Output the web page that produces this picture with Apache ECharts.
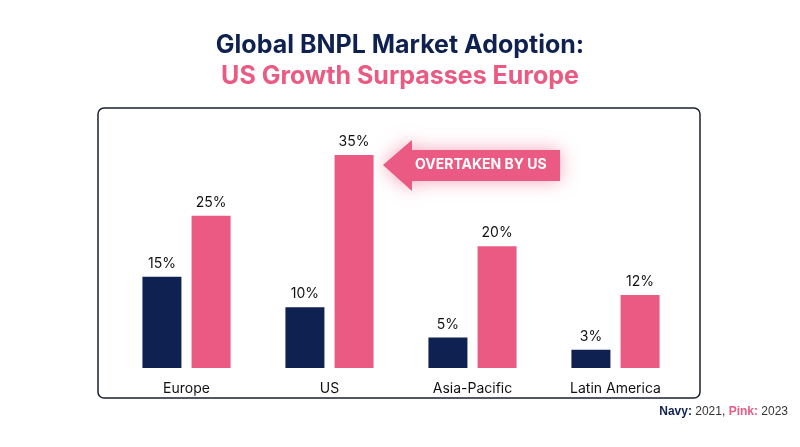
<!DOCTYPE html>
<html>
<head>
<meta charset="UTF-8">
<title>Global BNPL Market Adoption</title>
<script src="https://cdn.jsdelivr.net/npm/echarts@6/dist/echarts.min.js"></script>
<style>html,body{margin:0;padding:0;background:#fff;}</style>
</head>
<body>
<div id="chart" style="width:800px;height:447px;"></div>
<script>
var regions = ['Europe', 'US', 'Asia-Pacific', 'Latin America'];
var adoption2021 = [15, 10, 5, 3];
var adoption2023 = [25, 35, 20, 12];

var navy = '#0f2150';
var pink = '#ea5a82';
var chart = echarts.init(document.getElementById('chart'));

var option = {
    backgroundColor: '#fff',
    textStyle: { fontFamily: 'Inter, Roboto, sans-serif' },
    title: {
        text: 'Global BNPL Market Adoption:',
        subtext: 'US Growth Surpasses Europe',
        left: 'center',
        top: 28,
        itemGap: 6,
        textStyle: { fontSize: 25, fontWeight: 'bold', color: navy, fontFamily: 'Inter, sans-serif' },
        subtextStyle: { fontSize: 25, fontWeight: 'bold', color: pink, fontFamily: 'Inter, sans-serif' }
    },
    grid: { left: 115, right: 113, top: 155, bottom: 79 },
    xAxis: {
        type: 'category',
        data: regions,
        axisLine: { show: false },
        axisTick: { show: false },
        axisLabel: { color: '#111', fontSize: 14, margin: 14 }
    },
    yAxis: {
        type: 'value',
        min: 0,
        max: 35,
        show: false,
        splitLine: { show: false }
    },
    series: [
        {
            name: '2021',
            type: 'bar',
            data: adoption2021,
            barWidth: 39,
            barGap: '26%',
            itemStyle: { color: navy },
            label: { show: true, position: 'top', formatter: '{c}%', color: '#111', fontSize: 14, distance: 6 }
        },
        {
            name: '2023',
            type: 'bar',
            data: adoption2023,
            barWidth: 39,
            itemStyle: { color: pink },
            label: { show: true, position: 'top', formatter: '{c}%', color: '#111', fontSize: 14, distance: 6 }
        }
    ],
    graphic: [
        {
            type: 'rect',
            shape: { x: 98, y: 108, width: 602, height: 290, r: 6 },
            style: { fill: 'none', stroke: '#1a1f33', lineWidth: 1.5 },
            z: -1
        },
        {
            type: 'polygon',
            shape: { points: [[383, 165], [412, 140], [412, 150], [560, 150], [560, 181], [412, 181], [412, 191]] },
            style: { fill: pink, shadowBlur: 18, shadowColor: 'rgba(234,90,130,0.55)' }
        },
        {
            type: 'text',
            left: 415,
            top: 158,
            style: { text: 'OVERTAKEN BY US', fill: '#fff', fontSize: 14, fontWeight: 'bold', fontFamily: 'Inter, sans-serif' }
        },
        {
            type: 'text',
            right: 12,
            top: 406,
            style: {
                text: '{a|Navy:} {c|2021,} {b|Pink:} {c|2023}',
                rich: {
                    a: { fill: navy, fontWeight: 'bold', fontSize: 12 },
                    b: { fill: pink, fontWeight: 'bold', fontSize: 12 },
                    c: { fill: '#333', fontSize: 12 }
                }
            }
        }
    ]
};
chart.setOption(option);
</script>
</body>
</html>
